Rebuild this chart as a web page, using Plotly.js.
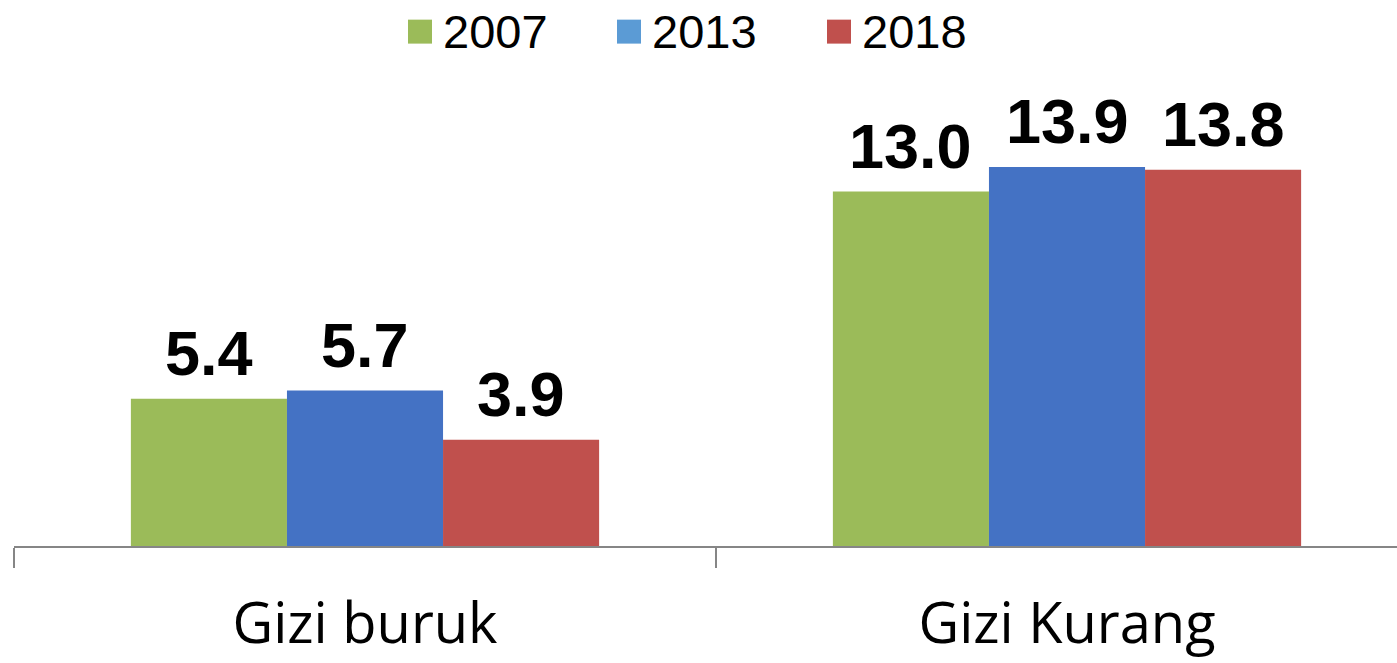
<!DOCTYPE html>
<html>
<head>
<meta charset="utf-8">
<script src="https://cdn.plot.ly/plotly-3.0.1.min.js"></script>
<style>
  html, body { margin: 0; padding: 0; background: #fff; }
  #chart { width: 1397px; height: 663px; }
</style>
</head>
<body>
<div id="chart"></div>
<script>
// ---- data ----
const categories = ['Gizi buruk', 'Gizi Kurang'];
const years = ['2007', '2013', '2018'];
const values2007 = [5.4, 13.0];
const values2013 = [5.7, 13.9];
const values2018 = [3.9, 13.8];

// ---- styling ----
const barColors = ['#9BBB59', '#4472C4', '#C0504D'];
const legendColors = ['#9BBB59', '#5B9BD5', '#C0504D'];
const series = [values2007, values2013, values2018];

const W = 1397, H = 663;
const margin = { l: 14, r: 0, t: 136.5, b: 117 };
const plotW = W - margin.l - margin.r;
const plotH = H - margin.t - margin.b;
const catPx = 702; // pixel width of one category slot
const bargap = 0.333;
const barW = (1 - bargap) / series.length; // bar width in category units

const traces = series.map((vals, i) => ({
  type: 'bar',
  name: years[i],
  x: categories,
  y: vals,
  marker: { color: barColors[i], line: { width: 0 } },
  hoverinfo: 'skip',
  showlegend: false
}));

const annotations = [];
// value labels above bars
series.forEach((vals, i) => {
  vals.forEach((v, j) => {
    annotations.push({
      xref: 'x', yref: 'y',
      x: j + (i - (series.length - 1) / 2) * barW,
      y: v,
      xanchor: 'center', yanchor: 'bottom',
      yshift: 9,
      text: v.toFixed(1), showarrow: false,
      font: { family: 'Liberation Sans, Arial, sans-serif', size: 63, color: '#000', weight: 'bold' }
    });
  });
});

// manual legend (larger swatches than Plotly's fixed legend symbol)
const legendSwatchLeft = [408, 617, 827];
const pxToPaperX = px => (px - margin.l) / plotW;
const pxToPaperY = py => (H - margin.b - py) / plotH;
const shapes = [];
years.forEach((yr, i) => {
  const x0 = legendSwatchLeft[i];
  shapes.push({
    type: 'rect', xref: 'paper', yref: 'paper',
    x0: pxToPaperX(x0), x1: pxToPaperX(x0 + 24),
    y0: pxToPaperY(43), y1: pxToPaperY(19),
    fillcolor: legendColors[i], line: { width: 0 }
  });
  annotations.push({
    xref: 'paper', yref: 'paper',
    x: pxToPaperX(x0 + 33), y: pxToPaperY(31),
    xanchor: 'left', yanchor: 'middle',
    text: yr, showarrow: false,
    font: { family: 'Liberation Sans, Arial, sans-serif', size: 47, color: '#000' }
  });
});

const layout = {
  width: W, height: H,
  margin: margin,
  paper_bgcolor: '#fff', plot_bgcolor: '#fff',
  barmode: 'group',
  bargap: bargap,
  bargroupgap: 0,
  showlegend: false,
  xaxis: {
    type: 'category',
    range: [-0.5, -0.5 + plotW / catPx],
    showline: true, linecolor: '#868686', linewidth: 1.5,
    ticks: 'outside', tickson: 'boundaries', ticklen: 20,
    tickcolor: '#868686', tickwidth: 1.5,
    showgrid: false, zeroline: false,
    tickfont: { family: 'Open Sans, sans-serif', size: 56, color: '#000' },
    ticklabelstandoff: 28,
    fixedrange: true
  },
  yaxis: {
    range: [0, 15],
    visible: false,
    showgrid: false, zeroline: false,
    fixedrange: true
  },
  shapes: shapes,
  annotations: annotations
};

Plotly.newPlot('chart', traces, layout, { displayModeBar: false, staticPlot: true });
</script>
</body>
</html>
